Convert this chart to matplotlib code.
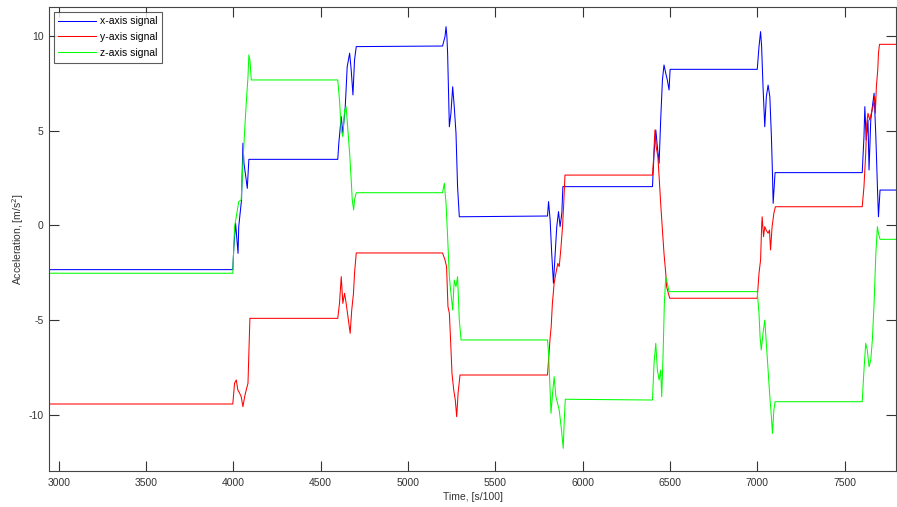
import matplotlib
matplotlib.use("Agg")
import matplotlib.pyplot as plt

# ---- data ----
x_t = [2945, 3997, 4003, 4013, 4027, 4031, 4047, 4055, 4061, 4074, 4080, 4089, 4598, 4604, 4618, 4627,
       4641, 4652, 4666, 4675, 4685, 4694, 4704, 5198, 5212, 5218, 5223, 5227, 5237, 5246, 5256, 5265,
       5275, 5284, 5294, 5799, 5805, 5814, 5823, 5833, 5843, 5852, 5862, 5871, 5881, 5887, 6400, 6409,
       6419, 6428, 6438, 6447, 6457, 6466, 6476, 6485, 6495, 6501, 7000, 7010, 7019, 7025, 7033, 7043,
       7052, 7062, 7072, 7081, 7087, 7091, 7102, 7601, 7611, 7616, 7624, 7634, 7640, 7650, 7659, 7669,
       7679, 7688, 7694, 7703, 7795]
x_v = [-2.33, -2.33, -1.12, 0.12, -1.47, -0.06, 1.35, 4.34, 3.28, 2.40, 1.96, 3.49, 3.49, 4.34, 5.74, 4.87,
       6.27, 8.38, 9.09, 8.21, 6.89, 8.73, 9.44, 9.47, 9.96, 10.49, 9.96, 9.09, 5.21, 5.92, 7.32, 6.27,
       4.87, 2.05, 0.46, 0.50, 1.26, 0.29, -1.47, -3.05, -1.47, -0.06, 0.73, -0.06, 0.64, 2.05, 2.05, 3.81,
       5.04, 4.16, 3.28, 5.57, 7.68, 8.47, 8.03, 7.68, 7.15, 8.24, 8.24, 9.44, 10.23, 9.44, 7.32, 5.21,
       6.80, 7.41, 6.80, 4.69, 2.75, 1.17, 2.79, 2.79, 4.69, 6.27, 4.51, 5.57, 2.93, 5.57, 6.27, 6.98,
       4.69, 2.05, 0.46, 1.87, 1.87]

y_t = [2945, 3997, 4007, 4017, 4026, 4036, 4045, 4055, 4065, 4074, 4084, 4089, 4095, 4598, 4608, 4618,
       4627, 4637, 4646, 4659, 4669, 4678, 4688, 4694, 4704, 5198, 5212, 5221, 5229, 5237, 5244, 5252,
       5262, 5271, 5279, 5287, 5298, 5799, 5805, 5813, 5820, 5827, 5837, 5847, 5858, 5866, 5875, 5885,
       5891, 5899, 6400, 6406, 6414, 6421, 6431, 6438, 6447, 6457, 6466, 6476, 6481, 6491, 6499, 7000,
       7010, 7019, 7025, 7028, 7036, 7043, 7051, 7062, 7070, 7076, 7085, 7095, 7104, 7601, 7611, 7621,
       7627, 7634, 7644, 7653, 7663, 7672, 7676, 7682, 7690, 7694, 7700, 7795]
y_v = [-9.42, -9.42, -8.33, -8.15, -8.68, -8.85, -9.03, -9.56, -9.03, -8.68, -8.33, -6.74, -4.90,
       -4.90, -4.11, -2.70, -4.11, -3.58, -4.11, -4.99, -5.69, -4.46, -3.58, -2.52, -1.45,
       -1.45, -1.82, -2.17, -4.28, -4.63, -6.04, -7.80, -8.68, -9.21, -10.09, -8.85, -7.89,
       -7.89, -7.10, -6.04, -5.34, -4.11, -3.05, -2.52, -2.00, -2.17, -1.29, -0.06, 0.99, 2.66,
       2.66, 3.46, 5.04, 4.16, 3.63, 2.58, 1.17, -0.24, -1.47, -2.52, -3.23, -3.58, -3.84, -3.84,
       -2.52, -1.82, -0.06, 0.46, -0.59, -0.06, -0.24, -0.41, -0.24, -1.29, -0.06, 0.64, 0.99, 0.99,
       2.05, 3.81, 5.39, 5.92, 5.57, 5.92, 6.27, 6.80, 5.92, 7.32, 8.21, 9.09, 9.56, 9.56]

z_t = [2945, 3997, 4007, 4017, 4031, 4045, 4055, 4065, 4074, 4084, 4089, 4095, 4103, 4598, 4608, 4618,
       4627, 4637, 4646, 4656, 4666, 4675, 4681, 4689, 4694, 4704, 5198, 5208, 5218, 5227, 5237, 5246,
       5256, 5265, 5275, 5284, 5294, 5304, 5799, 5805, 5813, 5819, 5828, 5837, 5847, 5866, 5879, 5889,
       5895, 5901, 6400, 6409, 6419, 6428, 6438, 6447, 6453, 6461, 6468, 6476, 6485, 6495, 7000, 7010,
       7016, 7023, 7033, 7043, 7052, 7062, 7072, 7081, 7087, 7095, 7102, 7601, 7611, 7621, 7630, 7640,
       7650, 7659, 7669, 7679, 7688, 7694, 7703, 7795]
z_v = [-2.52, -2.52, -0.06, 0.46, 1.26, 1.35, 3.28, 5.04, 6.45, 7.85, 9.00, 8.73, 7.68, 7.68, 6.62,
       5.04, 4.69, 6.07, 6.27, 5.04, 3.81, 2.40, 1.35, 0.82, 1.35, 1.73, 1.73, 2.23, 1.17, -0.59,
       -2.70, -3.58, -4.46, -2.88, -3.23, -2.70, -4.99, -6.04, -6.04, -6.74, -8.51, -9.91, -8.85,
       -7.98, -9.03, -9.74, -10.79, -11.76, -10.26, -9.17, -9.21, -7.27, -6.22, -7.63, -8.15, -7.63,
       -9.03, -6.74, -4.11, -2.70, -3.05, -3.49, -3.49, -4.63, -5.87, -6.57, -5.69, -4.99, -6.22,
       -7.63, -9.03, -10.09, -10.97, -9.74, -9.30, -9.30, -7.63, -6.22, -6.57, -7.45, -7.10, -6.04,
       -4.11, -1.47, -0.06, -0.41, -0.73, -0.73]

series_labels = ["x-axis signal", "y-axis signal", "z-axis signal"]
x_ticks = [3000, 3500, 4000, 4500, 5000, 5500, 6000, 6500, 7000, 7500]
y_ticks = [-10, -5, 0, 5, 10]

# ---- plot ----
plt.rcParams['font.family'] = ['Liberation Sans', 'DejaVu Sans']
plt.rcParams['axes.unicode_minus'] = False
fig = plt.figure(figsize=(8.97, 5.07), dpi=100)
ax = fig.add_axes([0.0547, 0.0716, 0.9443, 0.9146])

ax.plot(x_t, x_v, color='#0000ff', lw=0.75, label=series_labels[0])
ax.plot(y_t, y_v, color='#ff0000', lw=0.75, label=series_labels[1])
ax.plot(z_t, z_v, color='#00ff00', lw=0.75, label=series_labels[2])

ax.set_xlim(2945, 7795)
ax.set_ylim(-12.94, 11.53)
ax.set_xticks(x_ticks)
ax.set_yticks(y_ticks)
ax.tick_params(direction='in', length=7, width=0.8, colors='#333333', labelsize=7.5,
               top=True, right=True)
ax.tick_params(axis='x', pad=5)
ax.tick_params(axis='y', pad=4)
for s in ax.spines.values():
    s.set_color('#444444')
    s.set_linewidth(0.8)

ax.set_xlabel('Time, [s/100]', fontsize=7.5, color='#333333', labelpad=3)
ax.set_ylabel('Acceleration, [m/s$^2$]', fontsize=7.5, color='#333333')
ax.yaxis.set_label_coords(-0.0275, 0.5)

leg = ax.legend(loc='upper left', fontsize=7.5, frameon=True, fancybox=False,
                edgecolor='#333333', handlelength=3.6, borderpad=0.45, labelspacing=0.55,
                handletextpad=0.4, borderaxespad=0.45)
leg.get_frame().set_linewidth(0.8)

fig.savefig('out.png', dpi=100)
